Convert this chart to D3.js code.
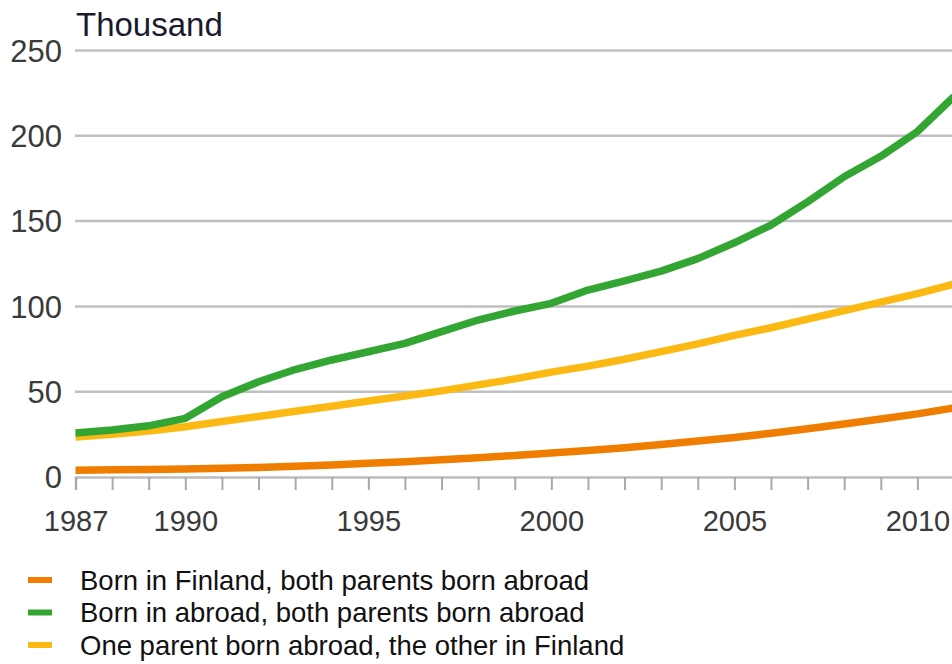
<!DOCTYPE html>
<html>
<head>
<meta charset="utf-8">
<script src="https://cdn.jsdelivr.net/npm/d3@7"></script>
<style>
  body { margin: 0; background: #fff; }
  svg { display: block; font-family: Arial, "Liberation Sans", sans-serif; }
</style>
</head>
<body>
<svg id="chart"></svg>
<script>
var years = d3.range(1987, 2012);
var bornFinland = [4, 4.2, 4.4, 4.7, 5.1, 5.6, 6.3, 7.1, 8, 9, 10.1, 11.3, 12.6, 14, 15.5, 17.2, 19.1, 21.1, 23.2, 25.6, 28.3, 31.1, 34, 37, 40.5];
var bornAbroad = [25.8, 27.5, 30, 34.4, 47, 55.8, 63, 68.6, 73.4, 78.3, 85.2, 92, 97.3, 101.8, 109.6, 115, 120.7, 128, 137.3, 147.7, 161.3, 176, 188, 202.5, 223];
var oneParent = [23.5, 25, 27, 29.5, 32.5, 35.5, 38.5, 41.5, 44.5, 47.5, 50.5, 54, 57.5, 61.5, 65, 69, 73.5, 78, 83, 87.5, 92.5, 97.5, 102.5, 107.5, 113];
var seriesNames = ["Born in Finland, both parents born abroad", "Born in abroad, both parents born abroad", "One parent born abroad, the other in Finland"];
var seriesColors = ["#ef7d00", "#33a532", "#fdb913"];
var yTicks = [0, 50, 100, 150, 200, 250];
var xLabels = [1987, 1990, 1995, 2000, 2005, 2010];

var width = 952, height = 664;
var svg = d3.select("#chart").attr("width", width).attr("height", height);

// plot area runs past the right edge, like the original crop
var x = d3.scaleLinear().domain([1987, 2011]).range([75.5, 954]);
var y = d3.scaleLinear().domain([0, 250]).range([477, 50.5]);

// gridlines
svg.append("g")
  .selectAll("line")
  .data(yTicks.filter(function (d) { return d > 0; }))
  .enter()
  .append("line")
  .attr("x1", 75)
  .attr("x2", width)
  .attr("y1", function (d) { return y(d); })
  .attr("y2", function (d) { return y(d); })
  .style("stroke", "#c0bfc2")
  .style("stroke-width", 2.5);

// y labels
svg.append("g")
  .selectAll("text")
  .data(yTicks)
  .enter()
  .append("text")
  .attr("x", 62)
  .attr("y", function (d) { return y(d); })
  .attr("dy", "0.36em")
  .attr("text-anchor", "end")
  .style("font-size", "31px")
  .style("fill", "#3a3a3a")
  .text(function (d) { return d; });

svg.append("text")
  .attr("x", 76)
  .attr("y", 36)
  .style("font-size", "33px")
  .style("fill", "#1a1a2e")
  .text("Thousand");

// x axis
var xAxis = d3.axisBottom(x)
  .tickValues(years)
  .tickSize(13)
  .tickFormat(function (d) { return xLabels.indexOf(d) >= 0 ? d : ""; });

var gx = svg.append("g")
  .attr("transform", "translate(0," + y(0) + ")")
  .call(xAxis);
gx.select(".domain").style("stroke", "#bdbcbf").style("stroke-width", 2.5);
gx.selectAll(".tick line").style("stroke", "#a9a8ab").style("stroke-width", 2);
gx.selectAll(".tick text")
  .attr("y", 33)
  .attr("dy", "0.71em")
  .style("font-size", "29px")
  .style("fill", "#3a3a3a")
  .style("font-family", "Arial, 'Liberation Sans', sans-serif");

// lines
var allSeries = [bornFinland, bornAbroad, oneParent];
var drawOrder = [2, 1, 0];
var line = d3.line()
  .x(function (d, i) { return x(years[i]); })
  .y(function (d) { return y(d); });

drawOrder.forEach(function (k) {
  svg.append("path")
    .datum(allSeries[k])
    .attr("d", line)
    .style("fill", "none")
    .style("stroke", seriesColors[k])
    .style("stroke-width", 7.5)
    .style("stroke-linejoin", "round");
});

// legend
var legend = svg.append("g")
  .selectAll("g")
  .data(seriesNames)
  .enter()
  .append("g")
  .attr("transform", function (d, i) { return "translate(0," + (580 + i * 32.5) + ")"; });

legend.append("line")
  .attr("x1", 28)
  .attr("x2", 52)
  .style("stroke", function (d, i) { return seriesColors[i]; })
  .style("stroke-width", 6);

legend.append("text")
  .attr("x", 80)
  .attr("dy", "0.36em")
  .style("font-size", "27.5px")
  .style("fill", "#111")
  .text(function (d) { return d; });
</script>
</body>
</html>
